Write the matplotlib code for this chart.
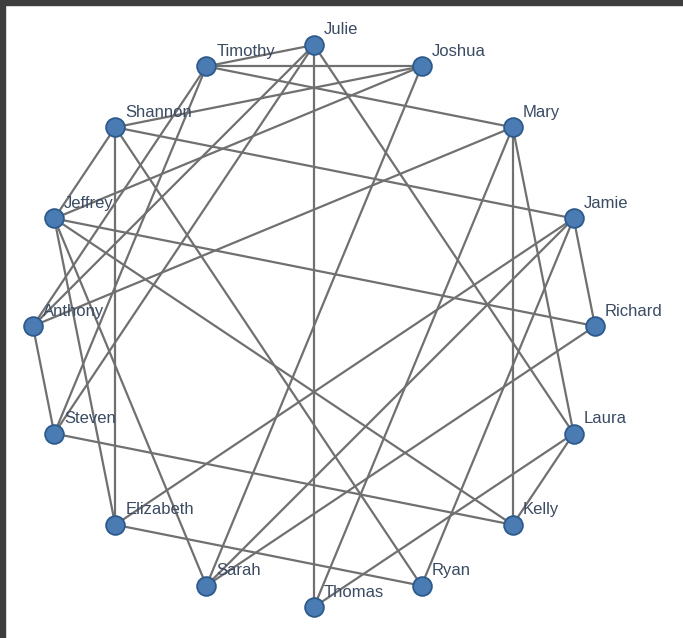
import numpy as np
import matplotlib.pyplot as plt
from matplotlib.patches import Rectangle

# people, clockwise starting at the top of the circle
names = ['Julie', 'Joshua', 'Mary', 'Jamie', 'Richard', 'Laura', 'Kelly', 'Ryan',
         'Thomas', 'Sarah', 'Elizabeth', 'Steven', 'Anthony', 'Jeffrey', 'Shannon', 'Timothy']

links = [
    ('Julie', 'Timothy'), ('Julie', 'Thomas'), ('Julie', 'Anthony'),
    ('Julie', 'Steven'), ('Julie', 'Laura'),
    ('Timothy', 'Joshua'), ('Timothy', 'Mary'), ('Timothy', 'Anthony'), ('Timothy', 'Steven'),
    ('Joshua', 'Shannon'), ('Joshua', 'Jeffrey'), ('Joshua', 'Sarah'),
    ('Mary', 'Anthony'), ('Mary', 'Thomas'), ('Mary', 'Kelly'), ('Mary', 'Laura'),
    ('Jamie', 'Shannon'), ('Jamie', 'Richard'), ('Jamie', 'Elizabeth'),
    ('Jamie', 'Sarah'), ('Jamie', 'Ryan'),
    ('Richard', 'Jeffrey'), ('Richard', 'Sarah'),
    ('Laura', 'Kelly'), ('Laura', 'Thomas'),
    ('Kelly', 'Steven'), ('Kelly', 'Jeffrey'),
    ('Ryan', 'Elizabeth'), ('Ryan', 'Shannon'),
    ('Sarah', 'Jeffrey'),
    ('Elizabeth', 'Shannon'), ('Elizabeth', 'Jeffrey'),
    ('Steven', 'Anthony'),
    ('Jeffrey', 'Shannon'),
]


def circle_layout(labels):
    ang = 2 * np.pi * np.arange(len(labels)) / len(labels)
    return {n: (np.sin(a), np.cos(a)) for n, a in zip(labels, ang)}


def draw_graph(pos):
    fig = plt.figure(figsize=(6.83, 6.38), dpi=100)
    ax = fig.add_axes([0, 0, 1, 1])
    ax.set_xlim(-1.117, 1.313)
    ax.set_ylim(-1.110, 1.160)
    ax.axis('off')

    for a, b in links:
        ax.plot([pos[a][0], pos[b][0]], [pos[a][1], pos[b][1]],
                color='#707070', lw=1.6, zorder=1, solid_capstyle='round')

    xs = [pos[n][0] for n in names]
    ys = [pos[n][1] for n in names]
    ax.scatter(xs, ys, s=13.5 ** 2, color='#4a7bb2', edgecolor='#2d5a8c',
               linewidth=1.3, zorder=3)

    for n in names:
        ax.annotate(n, pos[n], xytext=(10, 15), textcoords='offset pixels',
                    ha='left', va='center', fontsize=12, color='#3a4b62',
                    family='Liberation Sans', zorder=2)

    # dark frame on the top and left edge
    fig.patches.append(Rectangle((0, 1 - 5 / 638), 1, 5 / 638, transform=fig.transFigure,
                                 color='#3d3d3d', zorder=0))
    fig.patches.append(Rectangle((0, 0), 5 / 683, 1, transform=fig.transFigure,
                                 color='#3d3d3d', zorder=0))
    return fig


def main():
    pos = circle_layout(names)
    fig = draw_graph(pos)
    fig.savefig('out.png', dpi=100)


if __name__ == '__main__':
    main()
